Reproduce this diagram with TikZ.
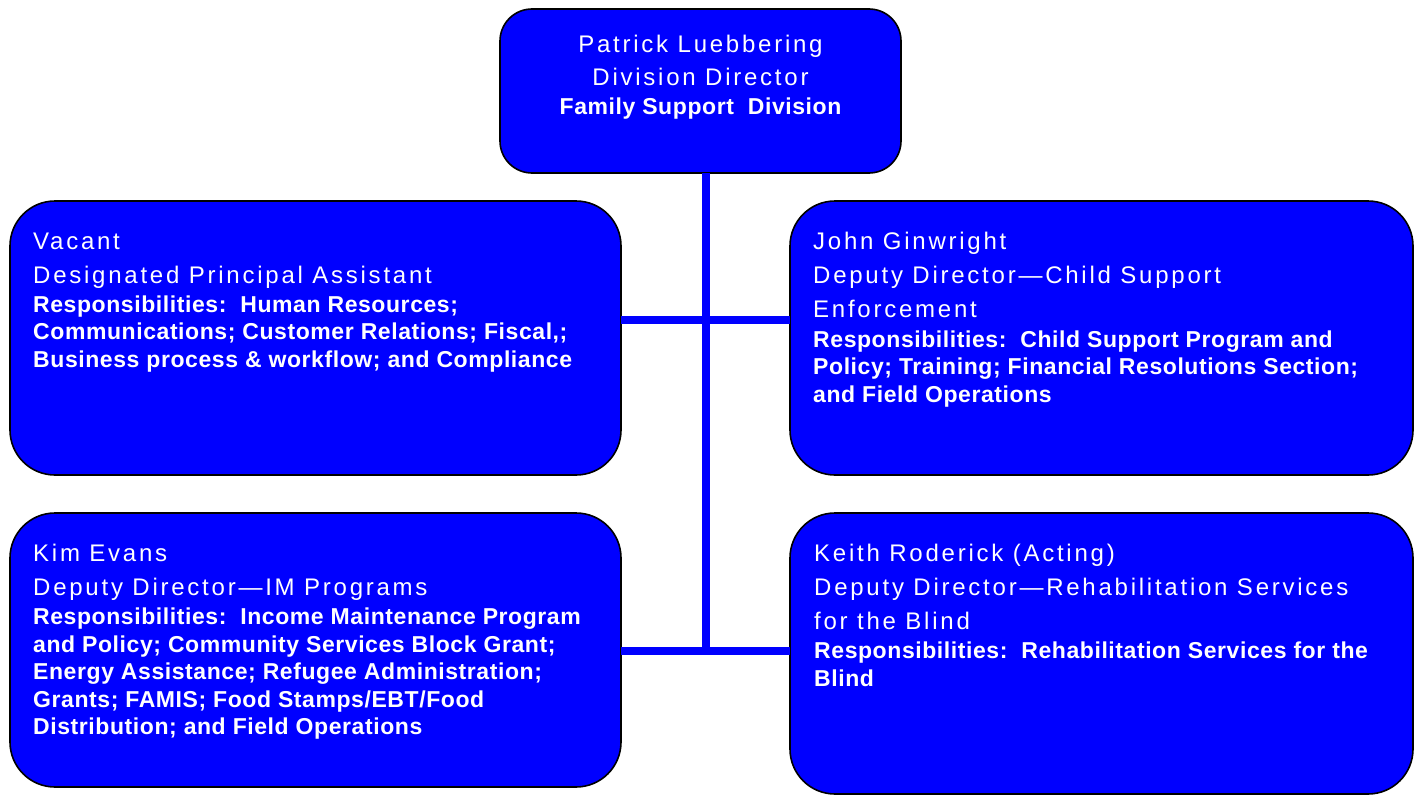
\documentclass[tikz,border=0pt]{standalone}
\usepackage{fontspec}
\setmainfont{Liberation Sans}
\newfontfamily\regtxt[LetterSpace=11.5]{Liberation Sans}
\newfontfamily\boldtxt[LetterSpace=2.5]{Liberation Sans}
\definecolor{boxblue}{RGB}{0,0,255}
\begin{document}
\begin{tikzpicture}[x=1pt,y=-1pt,
  orgbox/.style={draw=black, line width=1.6pt, fill=boxblue, inner sep=0pt, outer sep=0pt},
  conn/.style={draw=boxblue, line width=8pt},
  reg/.style={text=white, inner sep=0pt, font=\regtxt\fontsize{24}{28}\selectfont},
  bld/.style={text=white, inner sep=0pt, font=\boldtxt\bfseries\fontsize{23}{27}\selectfont}]
\useasboundingbox (0,0) rectangle (1419,795);

% boxes
\node[orgbox, rounded corners=32pt, minimum width=401pt, minimum height=164pt] (top) at (700.5,91) {};
\node[orgbox, rounded corners=45pt, minimum width=611pt, minimum height=274pt] (vac) at (315.5,338) {};
\node[orgbox, rounded corners=45pt, minimum width=623pt, minimum height=274pt] (john) at (1101.5,338) {};
\node[orgbox, rounded corners=45pt, minimum width=611pt, minimum height=274pt] (kim) at (315.5,650) {};
\node[orgbox, rounded corners=45pt, minimum width=623pt, minimum height=281pt] (keith) at (1101.5,653.5) {};

% connectors
\coordinate (spine) at (706,651);
\coordinate (upper) at (706,320);
\draw[conn] (top.south -| spine) -- (spine);
\draw[conn] (vac.east |- upper) -- (john.west |- upper);
\draw[conn] (kim.east |- spine) -- (keith.west |- spine);

% top box text
\node[reg, anchor=base] (t1) at (700.5,52) {Patrick Luebbering};
\node[reg, anchor=base] (t2) at (700.5,85) {Division Director};
\node[bld, anchor=base] (t3) at (700.5,114) {Family Support\ \ Division};

% vacant
\node[reg, anchor=base west] (v1) at (33,249) {Vacant};
\node[reg, anchor=base west] (v2) at (33,283) {Designated Principal Assistant};
\node[bld, anchor=base west] (v3) at (33,312) {Responsibilities:\ \ Human Resources;};
\node[bld, anchor=base west] (v4) at (33,339.5) {Communications; Customer Relations; Fiscal,;};
\node[bld, anchor=base west] (v5) at (33,367) {Business process \& workflow; and Compliance};

% john
\node[reg, anchor=base west] (j1) at (813,249) {John Ginwright};
\node[reg, anchor=base west] (j2) at (813,283) {Deputy Director—Child Support};
\node[reg, anchor=base west] (j3) at (813,317) {Enforcement};
\node[bld, anchor=base west] (j4) at (813,347) {Responsibilities:\ \ Child Support Program and};
\node[bld, anchor=base west] (j5) at (813,374.5) {Policy; Training; Financial Resolutions Section;};
\node[bld, anchor=base west] (j6) at (813,402) {and Field Operations};

% kim
\node[reg, anchor=base west] (k1) at (33,561) {Kim Evans};
\node[reg, anchor=base west] (k2) at (33,595) {Deputy Director—IM Programs};
\node[bld, anchor=base west] (k3) at (33,624.5) {Responsibilities:\ \ Income Maintenance Program};
\node[bld, anchor=base west] (k4) at (33,652) {and Policy; Community Services Block Grant;};
\node[bld, anchor=base west] (k5) at (33,679.5) {Energy Assistance; Refugee Administration;};
\node[bld, anchor=base west] (k6) at (33,707) {Grants; FAMIS; Food Stamps/EBT/Food};
\node[bld, anchor=base west] (k7) at (33,734.5) {Distribution; and Field Operations};

% keith
\node[reg, anchor=base west] (r1) at (814,561) {Keith Roderick (Acting)};
\node[reg, anchor=base west] (r2) at (814,595) {Deputy Director—Rehabilitation Services};
\node[reg, anchor=base west] (r3) at (814,629) {for the Blind};
\node[bld, anchor=base west] (r4) at (814,658.5) {Responsibilities:\ \ Rehabilitation Services for the};
\node[bld, anchor=base west] (r5) at (814,686) {Blind};
\end{tikzpicture}
\end{document}
